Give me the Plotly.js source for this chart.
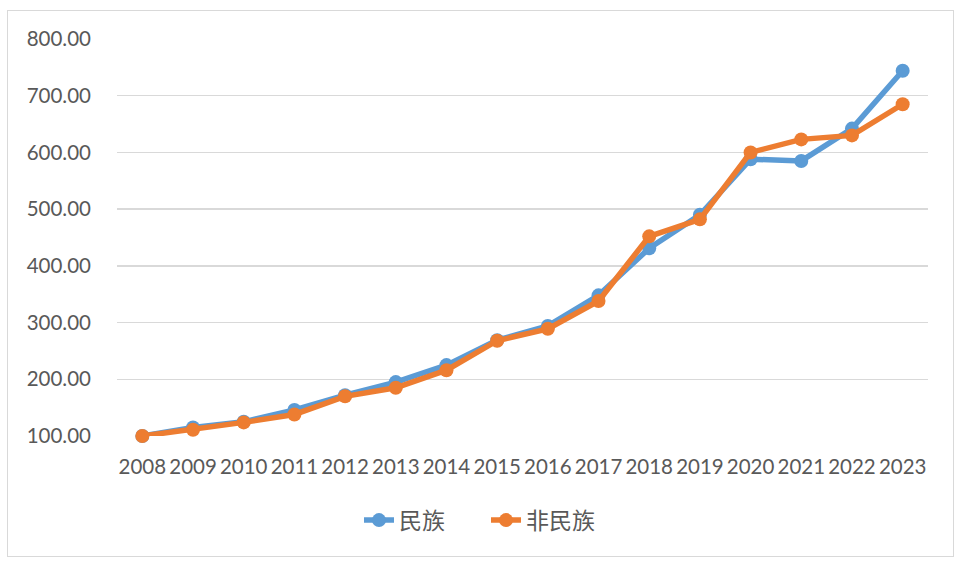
<!DOCTYPE html>
<html>
<head>
<meta charset="utf-8">
<script src="https://cdn.plot.ly/plotly-3.0.1.min.js"></script>
<style>
  html, body { margin: 0; padding: 0; background: #ffffff; }
  #frame {
    position: absolute; left: 7px; top: 10px; width: 947px; height: 547px;
    border: 1.5px solid #d9d9d9; box-sizing: border-box;
  }
  #chart { position: absolute; left: 0; top: 0; width: 960px; height: 562px; }
</style>
</head>
<body>
<div id="frame"></div>
<div id="chart"></div>
<script>
const years = ["2008", "2009", "2010", "2011", "2012", "2013", "2014", "2015",
  "2016", "2017", "2018", "2019", "2020", "2021", "2022", "2023"];
const ethnicValues = [100, 115, 125, 146, 172, 195, 225, 269,
  294, 348, 431, 490, 588, 585, 642, 744];
const nonEthnicValues = [100, 111, 124, 138, 170, 185, 216, 268,
  289, 338, 452, 482, 600, 623, 630, 685];
const seriesNames = ["民族", "非民族"];

const fontFamily = "Lato, 'Noto Sans CJK SC', sans-serif";
const textColor = "#595959";

function makeTrace(name, values, color) {
  return {
    x: years,
    y: values,
    name: name,
    type: "scatter",
    mode: "lines+markers",
    cliponaxis: false,
    line: { color: color, width: 5.5 },
    marker: { color: color, size: 14 },
  };
}

const traces = [
  makeTrace(seriesNames[0], ethnicValues, "#5b9bd5"),
  makeTrace(seriesNames[1], nonEthnicValues, "#ed7d31"),
];

const layout = {
  width: 960,
  height: 562,
  margin: { l: 117, r: 32, t: 39, b: 126 },
  paper_bgcolor: "rgba(0,0,0,0)",
  plot_bgcolor: "rgba(0,0,0,0)",
  font: { family: fontFamily, size: 20.5, color: textColor },
  showlegend: true,
  legend: {
    orientation: "h",
    x: 0.455,
    xanchor: "center",
    y: -0.212,
    yanchor: "middle",
    entrywidth: 82,
    font: { family: fontFamily, size: 23, color: textColor },
    itemclick: false,
  },
  xaxis: {
    type: "category",
    range: [-0.5, years.length - 0.5],
    showgrid: false,
    zeroline: false,
    showline: false,
    ticks: "",
    ticklabelstandoff: 16,
    tickfont: { family: fontFamily, size: 20.5, color: textColor },
  },
  yaxis: {
    range: [100, 800],
    dtick: 100,
    tickformat: ".2f",
    showgrid: true,
    gridcolor: "#d9d9d9",
    gridwidth: 1.5,
    zeroline: false,
    showline: false,
    ticks: "",
    ticklabelstandoff: 25,
    tickfont: { family: fontFamily, size: 20.5, color: textColor },
  },
};

Plotly.newPlot("chart", traces, layout, { displayModeBar: false, staticPlot: true });
</script>
</body>
</html>
